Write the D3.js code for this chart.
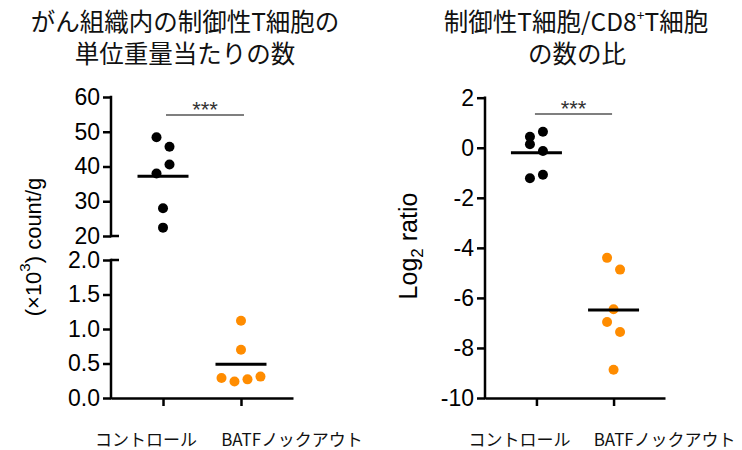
<!DOCTYPE html>
<html><head><meta charset="utf-8">
<script src="https://cdn.jsdelivr.net/npm/d3@7"></script>
<style>body{margin:0;background:#fff}svg{display:block}</style>
</head><body><svg id="c" width="742" height="450"></svg>
<script>
// ---- data ----
const categories = ["コントロール", "BATFノックアウト"];
const countControl = [48.4, 45.7, 38.0, 40.6, 28.0, 22.4];   // ×10^3 count/g (upper segment)
const countKO      = [1.12, 0.70, 0.29, 0.24, 0.27, 0.31];   // ×10^3 count/g (lower segment)
const ratioControl = [0.44, 0.64, 0.14, -0.13, -1.22, -1.08]; // log2 ratio
const ratioKO      = [-4.40, -4.87, -6.45, -6.96, -7.36, -8.87];
const countUpperTicks = [20, 30, 40, 50, 60];
const countLowerTicks = [0, 0.5, 1.0, 1.5, 2.0];
const ratioTicks = [2, 0, -2, -4, -6, -8, -10];
const titleLeft = ["がん組織内の制御性T細胞の", "単位重量当たりの数"];
const titleRight1 = ["制御性T細胞/CD8", "+", "T細胞"];
const titleRight2 = "の数の比";
const sigLabel = "***";

// ---- style ----
const BLACK = "#000", ORANGE = "#ff8c00";
const R = 5, SPACING = 13, MEANHALF = 25.5;
const FONT = "'Liberation Sans', Arial, Helvetica, sans-serif";
const JFONT = "'Noto Sans CJK JP', 'Noto Sans', sans-serif";

const svg = d3.select("#c");

function dodge(values, y) {
  const idx = values.map((v, i) => i).sort((a, b) => y(values[a]) - y(values[b]));
  const rows = []; let cur = null;
  idx.forEach(i => {
    const py = y(values[i]);
    if (!cur || py - cur.start > 2.4 * R) { cur = {start: py, items: []}; rows.push(cur); }
    cur.items.push(i);
  });
  const off = new Array(values.length);
  rows.forEach(row => {
    row.items.sort((a, b) => a - b);
    const k = row.items.length;
    row.items.forEach((i, j) => off[i] = (j - (k - 1) / 2) * SPACING);
  });
  return off;
}

function yAxis(g, scale, ticks, fmt, ax) {
  const a = g.append("g").attr("transform", `translate(${ax},0)`)
    .call(d3.axisLeft(scale).tickValues(ticks).tickSize(8).tickPadding(3).tickFormat(fmt));
  a.select(".domain").remove();
  a.selectAll(".tick line").attr("stroke", BLACK).attr("stroke-width", 2.5);
  a.selectAll(".tick text").attr("font-family", FONT).attr("font-size", 23).attr("fill", BLACK);
  const [r0, r1] = scale.range();
  a.append("line").attr("x1", 0).attr("x2", 0).attr("y1", r0 + 1.25).attr("y2", r1 - 1.25)
    .attr("stroke", BLACK).attr("stroke-width", 2.5);
  return a;
}

function xAxis(g, x, yPos) {
  const a = g.append("g").attr("transform", `translate(0,${yPos})`)
    .call(d3.axisBottom(x).tickSize(8).tickSizeOuter(0).tickFormat(""));
  a.select(".domain").attr("stroke", BLACK).attr("stroke-width", 2.5);
  a.selectAll(".tick line").attr("stroke", BLACK).attr("stroke-width", 2.5);
  // category labels
  const offs = [-17, 51];
  categories.forEach((c, i) => {
    g.append("text").attr("x", x(c) + offs[i]).attr("y", 446)
      .attr("text-anchor", "middle").attr("font-family", JFONT).attr("font-size", 17)
      .attr("fill", "#111").text(c);
  });
}

function dots(g, vals, y, cx, color) {
  const off = dodge(vals, y);
  g.append("g").selectAll("circle").data(vals).join("circle")
    .attr("cx", (d, i) => cx + off[i]).attr("cy", d => y(d)).attr("r", R).attr("fill", color);
  const m = d3.mean(vals);
  g.append("line").attr("x1", cx - MEANHALF).attr("x2", cx + MEANHALF)
    .attr("y1", y(m)).attr("y2", y(m)).attr("stroke", BLACK).attr("stroke-width", 3);
}

function sig(g, x, yPos, dx) {
  const x0 = x(categories[0]) + dx, x1 = x(categories[1]) + dx;
  g.append("line").attr("x1", x0).attr("x2", x1).attr("y1", yPos).attr("y2", yPos)
    .attr("stroke", "#555").attr("stroke-width", 1.4);
  g.append("text").attr("x", (x0 + x1) / 2).attr("y", yPos + 2).attr("text-anchor", "middle")
    .attr("font-family", FONT).attr("font-size", 22).attr("fill", "#333").text(sigLabel);
}

// ---- left panel ----
{
  const g = svg.append("g");
  const AX = 111;
  const x = d3.scalePoint().domain(categories).range([AX, 293]).padding(0.667);
  const yU = d3.scaleLinear().domain([20, 60]).range([236, 97]);
  const yL = d3.scaleLinear().domain([0, 2]).range([398, 260]);
  yAxis(g, yU, countUpperTicks, d => d3.format("d")(d), AX);
  yAxis(g, yL, countLowerTicks, d => d.toFixed(1), AX);
  // break caps
  [yU(20), yL(2)].forEach(v => g.append("line").attr("x1", AX).attr("x2", AX + 8)
    .attr("y1", v).attr("y2", v).attr("stroke", BLACK).attr("stroke-width", 2.5));
  xAxis(g, x, 398);
  dots(g, countControl, yU, x(categories[0]), BLACK);
  dots(g, countKO, yL, x(categories[1]), ORANGE);
  sig(g, x, 115, 3);
  const t = g.append("text").attr("transform", "translate(33,247) rotate(-90)")
    .attr("text-anchor", "middle").attr("dominant-baseline", "central")
    .attr("font-family", FONT).attr("font-size", 22).attr("fill", BLACK);
  t.append("tspan").text("(×10");
  t.append("tspan").attr("baseline-shift", "super").attr("font-size", 15).text("3");
  t.append("tspan").text(") count/g");
  titleLeft.forEach((s, i) => g.append("text").attr("x", 185).attr("y", 31 + i * 32)
    .attr("text-anchor", "middle").attr("font-family", JFONT).attr("font-size", 24.5)
    .attr("fill", "#111").text(s));
}

// ---- right panel ----
{
  const g = svg.append("g");
  const AX = 485;
  const x = d3.scalePoint().domain(categories).range([AX, 665]).padding(0.667);
  const y = d3.scaleLinear().domain([-10, 2]).range([398, 97.7]);
  yAxis(g, y, ratioTicks, d => String(d), AX);
  xAxis(g, x, 398);
  dots(g, ratioControl, y, x(categories[0]), BLACK);
  dots(g, ratioKO, y, x(categories[1]), ORANGE);
  sig(g, x, 114, -1.5);
  const t = g.append("text").attr("transform", "translate(408,246) rotate(-90)")
    .attr("text-anchor", "middle").attr("dominant-baseline", "central")
    .attr("font-family", FONT).attr("font-size", 25).attr("fill", BLACK);
  t.append("tspan").text("Log");
  t.append("tspan").attr("baseline-shift", "sub").attr("font-size", 17).text("2");
  t.append("tspan").text(" ratio");
  const t1 = g.append("text").attr("x", 576).attr("y", 31).attr("text-anchor", "middle")
    .attr("font-family", JFONT).attr("font-size", 24.5).attr("fill", "#111");
  t1.append("tspan").text(titleRight1[0]);
  t1.append("tspan").attr("baseline-shift", "super").attr("font-size", 14).text(titleRight1[1]);
  t1.append("tspan").attr("baseline-shift", "0").text(titleRight1[2]);
  g.append("text").attr("x", 577).attr("y", 63).attr("text-anchor", "middle")
    .attr("font-family", JFONT).attr("font-size", 24.5).attr("fill", "#111").text(titleRight2);
}
</script></body></html>
